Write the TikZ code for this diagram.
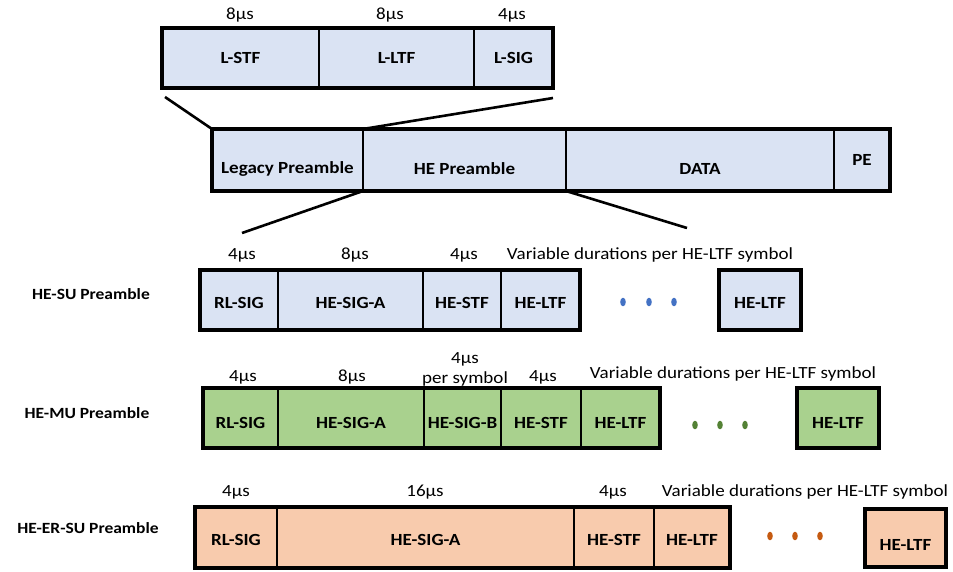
\documentclass[tikz,border=0pt]{standalone}
\usepackage{fontspec}
\setmainfont{Carlito}[FakeStretch=1.12]
\usetikzlibrary{fit}
\definecolor{lblue}{HTML}{DAE3F3}
\definecolor{lgreen}{HTML}{A9D18E}
\definecolor{lorange}{HTML}{F8CBAD}
\definecolor{dblue}{HTML}{4472C4}
\definecolor{dgreen}{HTML}{548235}
\definecolor{dorange}{HTML}{C55A11}
\newcommand\lowerby[2]{\raisebox{-#1}[\height][\depth]{#2}}
\begin{document}
\begin{tikzpicture}[x=1pt,y=-1pt,
  seg/.style={draw=black, line width=1.6pt, inner sep=0pt, outer sep=0pt, anchor=north west,
    font=\bfseries\fontsize{17}{17}\selectfont, align=center},
  frame/.style={draw=black, line width=3.4pt, inner sep=0pt, outer sep=0pt},
  dur/.style={font=\fontsize{17}{20}\selectfont, align=center, inner sep=0pt},
  rowlab/.style={font=\bfseries\fontsize{15.6}{16}\selectfont, inner sep=0pt},
  conn/.style={draw=black, line width=2.6pt},
  dot/.style={x radius=2.8pt, y radius=4.3pt}]
\useasboundingbox (0,0) rectangle (953,571);

% ---------- top legacy box
\node[seg, fill=lblue, minimum width=157pt, minimum height=60pt] (lstf) at (162,28) {L-STF};
\node[seg, fill=lblue, minimum width=155pt, minimum height=60pt] (lltf) at (319,28) {L-LTF};
\node[seg, fill=lblue, minimum width=79pt, minimum height=60pt] (lsig) at (474,28) {L-SIG};
\node[frame, fit=(lstf)(lsig)] (ltop) {};
\node[dur] (d1) at (240,15) {8µs};
\node[dur] (d2) at (390,15) {8µs};
\node[dur] (d3) at (512,15) {4µs};

% ---------- main frame
\node[seg, fill=lblue, minimum width=151pt, minimum height=62pt] (legacy) at (212,129) {\lowerby{9pt}{Legacy Preamble}};
\node[seg, fill=lblue, minimum width=203pt, minimum height=62pt] (hepre) at (363,129) {\lowerby{9pt}{HE Preamble}};
\node[seg, fill=lblue, minimum width=268pt, minimum height=62pt] (data) at (566,129) {\lowerby{9pt}{DATA}};
\node[seg, fill=lblue, minimum width=56pt, minimum height=62pt] (pe) at (834,129) {PE};
\node[frame, fit=(legacy)(pe)] (mainf) {};

\coordinate (lt1) at (165,97);
\coordinate (lt2) at (553,98);
\draw[conn] (lt1) -- (legacy.north west);
\draw[conn] (lt2) -- (hepre.north west);
\coordinate (he1) at (242,233);
\coordinate (he2) at (687,228);
\draw[conn] (hepre.south west) -- (he1);
\draw[conn] (hepre.south east) -- (he2);

% ---------- HE-SU
\node[rowlab] (su) at (91,294) {HE-SU Preamble};
\node[seg, fill=lblue, minimum width=78pt, minimum height=60pt] (su1) at (200,270) {\lowerby{3pt}{RL-SIG}};
\node[seg, fill=lblue, minimum width=145pt, minimum height=60pt] (su2) at (278,270) {\lowerby{3pt}{HE-SIG-A}};
\node[seg, fill=lblue, minimum width=78pt, minimum height=60pt] (su3) at (423,270) {\lowerby{3pt}{HE-STF}};
\node[seg, fill=lblue, minimum width=79pt, minimum height=60pt] (su4) at (501,270) {\lowerby{3pt}{HE-LTF}};
\node[frame, fit=(su1)(su4)] (suf) {};
\node[seg, frame, fill=lblue, minimum width=82pt, minimum height=60pt] (su5) at (719,270) {\lowerby{3pt}{HE-LTF}};
\fill[dblue] (623,302) circle[dot];
\fill[dblue] (649,302) circle[dot];
\fill[dblue] (674,302) circle[dot];
\node[dur] (sd1) at (242,255) {4µs};
\node[dur] (sd2) at (355,255) {8µs};
\node[dur] (sd3) at (464,255) {4µs};
\node[dur] (sd4) at (650,255) {Variable durations per HE-LTF symbol};

% ---------- HE-MU
\node[rowlab] (mu) at (87,413) {HE-MU Preamble};
\node[seg, fill=lgreen, minimum width=75pt, minimum height=60pt] (mu1) at (203,388) {\lowerby{5pt}{RL-SIG}};
\node[seg, fill=lgreen, minimum width=146pt, minimum height=60pt] (mu2) at (278,388) {\lowerby{5pt}{HE-SIG-A}};
\node[seg, fill=lgreen, minimum width=77pt, minimum height=60pt] (mu3) at (424,388) {\lowerby{5pt}{HE-SIG-B}};
\node[seg, fill=lgreen, minimum width=80pt, minimum height=60pt] (mu4) at (501,388) {\lowerby{5pt}{HE-STF}};
\node[seg, fill=lgreen, minimum width=79pt, minimum height=60pt] (mu5) at (581,388) {\lowerby{5pt}{HE-LTF}};
\node[frame, fit=(mu1)(mu5)] (muf) {};
\node[seg, frame, fill=lgreen, minimum width=82pt, minimum height=60pt] (mu6) at (797,388) {\lowerby{5pt}{HE-LTF}};
\fill[dgreen] (695,425) circle[dot];
\fill[dgreen] (720,425) circle[dot];
\fill[dgreen] (745,425) circle[dot];
\node[dur] (md1) at (243,377) {4µs};
\node[dur] (md2) at (352,377) {8µs};
\node[dur] (md3) at (465,369) {4µs\\per symbol};
\node[dur] (md4) at (543,377) {4µs};
\node[dur] (md5) at (733,374) {Variable durations per HE-LTF symbol};

% ---------- HE-ER-SU
\node[rowlab] (er) at (88,528) {HE-ER-SU Preamble};
\node[seg, fill=lorange, minimum width=82pt, minimum height=61pt] (er1) at (195,507) {\lowerby{2pt}{RL-SIG}};
\node[seg, fill=lorange, minimum width=297pt, minimum height=61pt] (er2) at (277,507) {\lowerby{2pt}{HE-SIG-A}};
\node[seg, fill=lorange, minimum width=80pt, minimum height=61pt] (er3) at (574,507) {\lowerby{2pt}{HE-STF}};
\node[seg, fill=lorange, minimum width=76pt, minimum height=61pt] (er4) at (654,507) {\lowerby{2pt}{HE-LTF}};
\node[frame, fit=(er1)(er4)] (erf) {};
\node[seg, frame, fill=lorange, minimum width=81pt, minimum height=58pt] (er5) at (865,509) {\lowerby{7pt}{HE-LTF}};
\fill[dorange] (770,536) circle[dot];
\fill[dorange] (795,536) circle[dot];
\fill[dorange] (820,536) circle[dot];
\node[dur] (ed1) at (236,492) {4µs};
\node[dur] (ed2) at (425,492) {16µs};
\node[dur] (ed3) at (613,492) {4µs};
\node[dur] (ed4) at (805,492) {Variable durations per HE-LTF symbol};
\end{tikzpicture}
\end{document}
